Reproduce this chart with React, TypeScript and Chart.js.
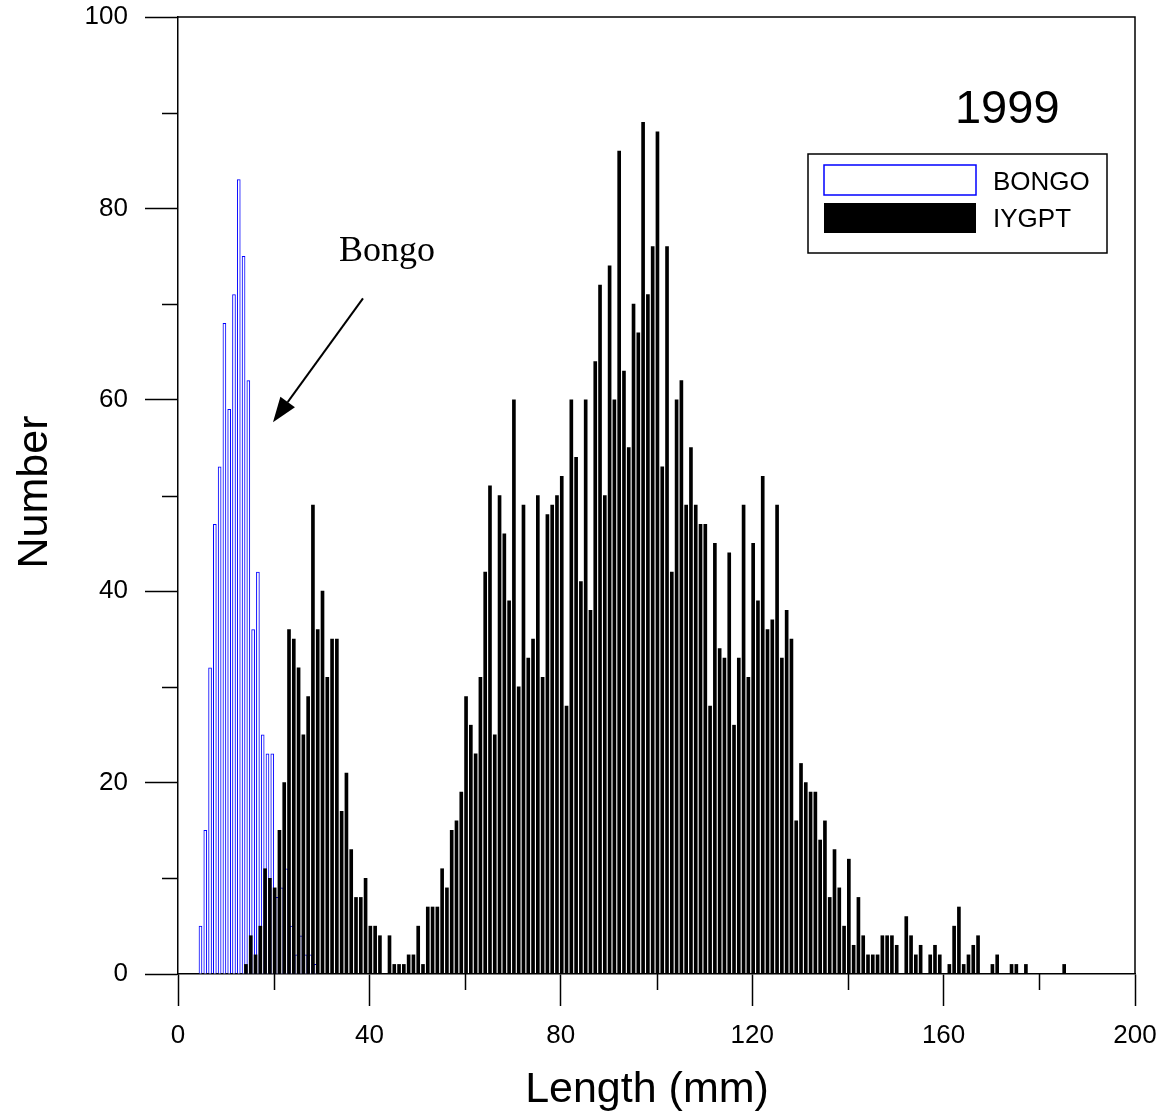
import React, { useEffect, useRef } from "react";
import { Chart, registerables } from "chart.js";

Chart.register(...registerables);

// ---------- data ----------
const X_TICKS = [0, 40, 80, 120, 160, 200];
const X_MINOR_TICKS = [20, 60, 100, 140, 180];
const Y_TICKS = [0, 20, 40, 60, 80, 100];
const Y_MINOR_TICKS = [10, 30, 50, 70, 90];

const SERIES_NAMES = ["BONGO", "IYGPT"];
const YEAR_LABEL = "1999";
const X_TITLE = "Length (mm)";
const Y_TITLE = "Number";
const ANNOTATION_TEXT = "Bongo";

// Bongo net catch: length (mm) -> number
const BONGO_LENGTHS = [5, 6, 7, 8, 9, 10, 11, 12, 13, 14, 15, 16, 17, 18, 19, 20, 21, 22, 23, 24, 25, 26, 27, 28, 29];
const BONGO_COUNTS = [5, 15, 32, 47, 53, 68, 59, 71, 83, 75, 62, 36, 42, 25, 23, 23, 8, 9, 11, 5, 2, 4, 2, 2, 1];

// IYGPT trawl catch: one count per mm, from 14 mm to 185 mm
const IYGPT_FIRST_LENGTH = 14;
const IYGPT_COUNTS = [
  // 14-23
  1, 4, 2, 5, 11, 10, 9, 15, 20, 36,
  // 24-33
  35, 32, 25, 29, 49, 36, 40, 31, 35, 35,
  // 34-43
  17, 21, 13, 8, 8, 10, 5, 5, 4, 0,
  // 44-53
  4, 1, 1, 1, 2, 2, 5, 1, 7, 7,
  // 54-63
  7, 11, 9, 15, 16, 19, 29, 26, 23, 31,
  // 64-73
  42, 51, 25, 50, 46, 39, 60, 30, 49, 33,
  // 74-83
  35, 50, 31, 48, 49, 50, 52, 28, 60, 54,
  // 84-93
  41, 60, 38, 64, 72, 50, 74, 60, 86, 63,
  // 94-103
  55, 70, 67, 89, 71, 76, 88, 53, 76, 42,
  // 104-113
  60, 62, 49, 55, 49, 47, 47, 28, 45, 34,
  // 114-123
  33, 44, 26, 33, 49, 31, 45, 39, 52, 36,
  // 124-133
  37, 49, 33, 38, 35, 16, 22, 20, 19, 19,
  // 134-143
  14, 16, 8, 13, 9, 5, 12, 3, 8, 4,
  // 144-153
  2, 2, 2, 4, 4, 4, 3, 0, 6, 4,
  // 154-163
  2, 3, 0, 2, 3, 2, 0, 1, 5, 7,
  // 164-173
  1, 2, 3, 4, 0, 0, 1, 2, 0, 0,
  // 174-183
  1, 1, 0, 1, 0, 0, 0, 0, 0, 0,
  // 184-185
  0, 1,
];
const IYGPT_LENGTHS = IYGPT_COUNTS.map((_, i) => IYGPT_FIRST_LENGTH + i);

// ---------- styling ----------
const SANS = "'Liberation Sans', Arial, sans-serif";
const SERIF = "'Liberation Serif', 'Times New Roman', serif";
const BLUE = "#0000ff";
const BONGO_SHIFT = -0.3; // drawing offset of bar centres (mm)
const IYGPT_SHIFT = 0.2;

const zeroPadding = (s: any) => {
  s.paddingLeft = 0;
  s.paddingRight = 0;
  s.paddingTop = 0;
  s.paddingBottom = 0;
};

const decorPlugin = {
  id: "decor",
  afterDraw(chart: any) {
    const { ctx, chartArea: a, scales } = chart;
    const xs = scales.x;
    const ys = scales.y;
    ctx.save();
    ctx.strokeStyle = "#000";
    ctx.lineWidth = 1.5;

    // frame (top + right)
    ctx.beginPath();
    ctx.moveTo(a.left, a.top);
    ctx.lineTo(a.right, a.top);
    ctx.lineTo(a.right, a.bottom);
    ctx.stroke();

    // minor ticks
    ctx.beginPath();
    X_MINOR_TICKS.forEach((v) => {
      const px = Math.round(xs.getPixelForValue(v)) + 0.5;
      ctx.moveTo(px, a.bottom);
      ctx.lineTo(px, a.bottom + 16);
    });
    Y_MINOR_TICKS.forEach((v) => {
      const py = Math.round(ys.getPixelForValue(v)) + 0.5;
      ctx.moveTo(a.left - 16, py);
      ctx.lineTo(a.left, py);
    });
    ctx.stroke();

    ctx.fillStyle = "#000";
    // axis titles
    ctx.font = `43px ${SANS}`;
    ctx.textAlign = "center";
    ctx.textBaseline = "alphabetic";
    ctx.fillText(X_TITLE, 647, 1102);
    ctx.save();
    ctx.translate(47, 492);
    ctx.rotate(-Math.PI / 2);
    ctx.fillText(Y_TITLE, 0, 0);
    ctx.restore();

    // year label
    ctx.font = `47px ${SANS}`;
    ctx.textAlign = "center";
    ctx.fillText(YEAR_LABEL, xs.getPixelForValue(173.3), ys.getPixelForValue(88.9));

    // "Bongo" annotation + arrow
    ctx.font = `36px ${SERIF}`;
    ctx.fillText(ANNOTATION_TEXT, xs.getPixelForValue(43.7), ys.getPixelForValue(74.5));
    const sx = xs.getPixelForValue(38.66);
    const sy = ys.getPixelForValue(70.6);
    const tx = xs.getPixelForValue(19.85);
    const ty = ys.getPixelForValue(57.65);
    const dx = tx - sx;
    const dy = ty - sy;
    const len = Math.hypot(dx, dy);
    const ux = dx / len;
    const uy = dy / len;
    const headLen = 25;
    const headHalf = 9;
    const bx = tx - ux * headLen;
    const by = ty - uy * headLen;
    ctx.lineWidth = 2;
    ctx.beginPath();
    ctx.moveTo(sx, sy);
    ctx.lineTo(bx, by);
    ctx.stroke();
    ctx.beginPath();
    ctx.moveTo(tx, ty);
    ctx.lineTo(bx - uy * headHalf, by + ux * headHalf);
    ctx.lineTo(bx + uy * headHalf, by - ux * headHalf);
    ctx.closePath();
    ctx.fill();

    // legend box
    const lx = a.right - 327;
    const ly = a.top + 137;
    ctx.lineWidth = 1.5;
    ctx.strokeRect(lx, ly, 299, 99);
    ctx.fillStyle = "#fff";
    ctx.fillRect(lx + 16, ly + 11, 152, 30);
    ctx.strokeStyle = BLUE;
    ctx.strokeRect(lx + 16, ly + 11, 152, 30);
    ctx.fillStyle = "#000";
    ctx.fillRect(lx + 16, ly + 49, 152, 30);
    ctx.font = `26px ${SANS}`;
    ctx.textAlign = "left";
    ctx.textBaseline = "alphabetic";
    ctx.fillText(SERIES_NAMES[0], lx + 185, ly + 36);
    ctx.fillText(SERIES_NAMES[1], lx + 185, ly + 73);
    ctx.restore();
  },
};

export default function App() {
  const canvasRef = useRef<HTMLCanvasElement | null>(null);

  useEffect(() => {
    if (!canvasRef.current) return;
    const chart = new Chart(canvasRef.current, {
      type: "bar",
      data: {
        datasets: [
          {
            label: SERIES_NAMES[0],
            data: BONGO_LENGTHS.map((l, i) => ({ x: l + BONGO_SHIFT, y: BONGO_COUNTS[i] })),
            backgroundColor: "#ffffff",
            borderColor: BLUE,
            borderWidth: 1,
            borderSkipped: "bottom",
            barThickness: 3,
            grouped: false,
            order: 1,
          },
          {
            label: SERIES_NAMES[1],
            data: IYGPT_LENGTHS.map((l, i) => ({ x: l + IYGPT_SHIFT, y: IYGPT_COUNTS[i] })),
            backgroundColor: "#000000",
            borderWidth: 0,
            barThickness: 3,
            grouped: false,
            order: 0,
          },
        ],
      },
      options: {
        responsive: false,
        animation: false,
        events: [],
        layout: { padding: { left: 0, top: 17, right: 29, bottom: 0 } },
        plugins: {
          legend: { display: false },
          tooltip: { enabled: false },
          title: { display: false },
        },
        scales: {
          x: {
            type: "linear",
            min: 0,
            max: 200,
            offset: false,
            afterFit: (s: any) => {
              s.height = 143;
              zeroPadding(s);
            },
            afterBuildTicks: (s: any) => {
              s.ticks = X_TICKS.map((v) => ({ value: v }));
            },
            ticks: {
              font: { family: SANS, size: 26 },
              color: "#000",
              padding: 14,
              maxRotation: 0,
              autoSkip: false,
            },
            grid: {
              offset: false,
              drawOnChartArea: false,
              drawTicks: true,
              tickLength: 32,
              tickWidth: 1.5,
              tickColor: "#000",
              color: "#000",
            },
            border: { display: true, color: "#000", width: 1.5 },
          },
          y: {
            type: "linear",
            min: 0,
            max: 100,
            afterFit: (s: any) => {
              s.width = 178;
              zeroPadding(s);
            },
            afterBuildTicks: (s: any) => {
              s.ticks = Y_TICKS.map((v) => ({ value: v }));
            },
            ticks: {
              font: { family: SANS, size: 26 },
              color: "#000",
              padding: 17,
              autoSkip: false,
            },
            grid: {
              drawOnChartArea: false,
              drawTicks: true,
              tickLength: 33,
              tickWidth: 1.5,
              tickColor: "#000",
              color: "#000",
            },
            border: { display: true, color: "#000", width: 1.5 },
          },
        },
      },
      plugins: [decorPlugin],
    } as any);
    return () => chart.destroy();
  }, []);

  return (
    <div style={{ position: "absolute", left: 0, top: 0, width: 1164, height: 1117, background: "#fff" }}>
      <canvas ref={canvasRef} width={1164} height={1117} style={{ display: "block" }} />
    </div>
  );
}
